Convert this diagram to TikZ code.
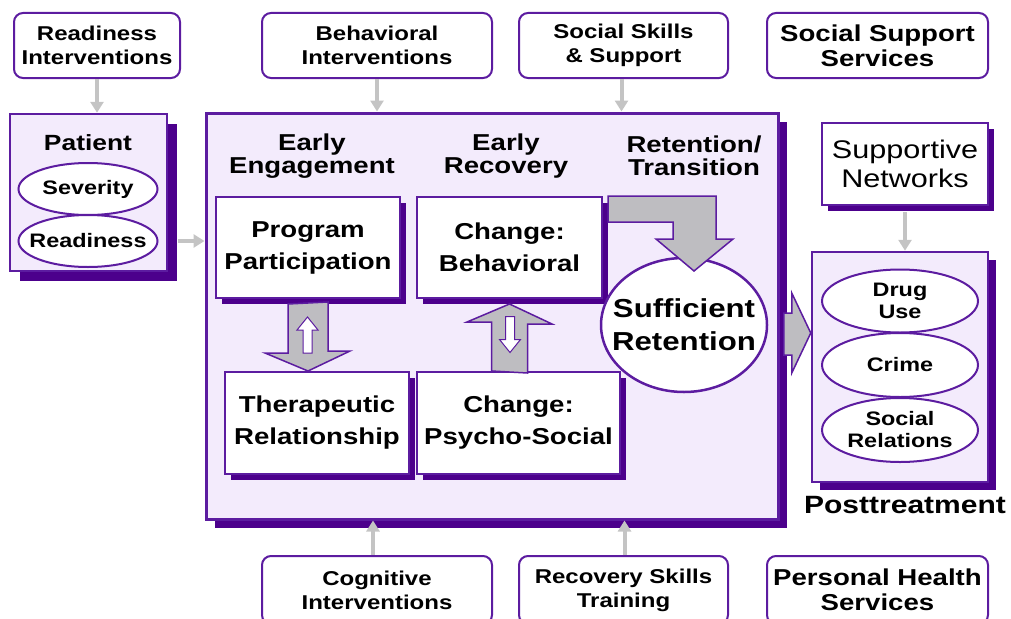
\documentclass[tikz,border=0pt]{standalone}
\usepackage{fontspec}
\setmainfont[FakeStretch=1.2]{Liberation Sans}
\usetikzlibrary{arrows.meta, shapes.geometric, shadows, positioning, calc}
\definecolor{purp}{RGB}{92,28,160}
\definecolor{shade}{RGB}{76,0,140}
\definecolor{lav}{RGB}{243,235,252}
\definecolor{fatgray}{RGB}{190,189,193}
\definecolor{linkgray}{RGB}{196,196,196}
\newcommand{\fsz}[2]{\fontsize{#1}{#2}\selectfont}

\begin{document}
\begin{tikzpicture}[x=1pt, y=-1pt,
  >={Triangle[length=11pt,width=13pt]},
  lift/.style={drop shadow={shadow xshift=#1, shadow yshift=-#1, fill=shade, opacity=1}},
  svc/.style={draw=purp, line width=2pt, rounded corners=9pt, fill=white, align=center,
    inner sep=0pt, minimum height=65pt, font=\bfseries\fsz{20}{24}},
  panel/.style={draw=purp, line width=2.5pt, fill=lav, inner sep=0pt},
  stage/.style={draw=purp, line width=2pt, fill=white, align=center, inner sep=0pt,
    minimum width=184pt, minimum height=101pt, lift=6pt, font=\bfseries\fsz{23}{32}},
  trait/.style={ellipse, draw=purp, line width=2pt, fill=white, align=center, inner sep=-30pt,
    minimum width=139pt, minimum height=52pt, font=\bfseries\fsz{19.5}{22}},
  head/.style={align=center, font=\bfseries\fsz{23}{23}},
  link/.style={draw=linkgray, line width=4pt, ->},
  fat/.style={fill=fatgray, draw=purp, line width=1.5pt, line join=miter},
  hollowup/.pic={\draw[draw=purp, fill=white, line width=1pt]
    (-4.5,18) -- (-4.5,-5) -- (-10.5,-5) -- (0,-18) -- (10.5,-5) -- (4.5,-5) -- (4.5,18) -- cycle;}
]
  \useasboundingbox (0,0) rectangle (1011,618);

  % services around the program
  \node[svc, minimum width=166pt] (readyint) at (97,45.5) {Readiness\\Interventions};
  \node[svc, minimum width=230pt] (behavint) at (377,45.5) {Behavioral\\Interventions};
  \node[svc, minimum width=209pt] (socskill) at (623.5,45.5) {Social Skills\\\& Support};
  \node[svc, minimum width=221pt, font=\bfseries\fsz{23}{25}] (socsupp) at (877.5,45.5) {Social Support\\Services};
  \node[svc, minimum width=230pt, minimum height=68pt] (cogint) at (377,590) {Cognitive\\Interventions};
  \node[svc, minimum width=209pt, minimum height=68pt] (recskill) at (623.5,590) {Recovery Skills\\Training};
  \node[svc, minimum width=221pt, minimum height=68pt, font=\bfseries\fsz{23}{25}] (perhealth) at (877.5,590) {Personal Health\\Services};

  % patient
  \node[panel, lift=10pt, minimum width=157pt, minimum height=157pt] (patient) at (88.5,192.5) {};
  \node[font=\bfseries\fsz{22}{22}] (ptitle) at (88,143) {Patient};
  \node[trait] (sev) at (88,189) {Severity};
  \node[trait] (rdy) at (88,241) {Readiness};

  % treatment process
  \node[panel, line width=3pt, lift=9pt, minimum width=572pt, minimum height=406pt] (core) at (492,316) {};
  \node[head] (eng) at (312,156) {Early\\Engagement};
  \node[head] (rec) at (506,156) {Early\\Recovery};
  \node[head] (ret) at (694,156) {Retention/\\Transition};

  \node[stage] (prog) at (308,247.5) {Program\\Participation};
  \node[stage, minimum width=185pt] (chbeh) at (509.5,247.5) {Change:\\Behavioral};
  \node[stage, minimum height=102pt] (thera) at (317,423) {Therapeutic\\Relationship};
  \node[stage, minimum width=203pt, minimum height=102pt] (chpsy) at (518.5,423) {Change:\\Psycho-Social};
  \node[trait, line width=2.5pt, minimum width=166pt, minimum height=134pt, font=\bfseries\fsz{26}{33}] (suff) at (684,325) {Sufficient\\Retention};

  % posttreatment
  \node[draw=purp, line width=2pt, fill=white, lift=6pt, minimum width=166pt, minimum height=82pt,
    align=center, inner sep=0pt, font=\fsz{25.5}{29}] (supnet) at (905,164) {Supportive\\Networks};
  \node[panel, lift=8pt, minimum width=176pt, minimum height=230pt] (post) at (900,367) {};
  \node[trait, minimum width=156pt, minimum height=63pt] (drug) at (900,301) {Drug\\Use};
  \node[trait, minimum width=156pt, minimum height=64pt] (crime) at (900,365) {Crime};
  \node[trait, minimum width=156pt, minimum height=64pt] (socrel) at (900,430) {Social\\Relations};
  \node[font=\bfseries\fsz{25}{25}] (ptlabel) at (905,505) {Posttreatment};

  % wide arrows
  \draw[fat] ([xshift=-20pt,yshift=-5pt]prog.south) -- ++(0,49) -- ++(-23,0)
    -- (prog.south |- thera.north) -- ++(42,-20) -- ++(-22,0) -- ++(0,-49) -- cycle;
  \pic at (307.5,335) {hollowup};
  \draw[fat] ($(chbeh.south |- chpsy.north)+(-18,0)$) -- ++(0,-49) -- ++(-24.5,0)
    -- ([yshift=-5pt]chbeh.south) -- ++(42.5,20) -- ++(-24.5,0) -- ++(0,49) -- cycle;
  \pic[rotate=180] at (510,334.5) {hollowup};
  \draw[fat] ([xshift=5pt]chbeh.north east) -- ++(108,0) -- ++(0,43) -- ++(17,0)
    -- ++(-39,32) -- ++(-38,-32) -- ++(17,0) -- ++(0,-17) -- ([xshift=5pt,yshift=-26pt]chbeh.north east) -- cycle;
  \draw[fat] ([yshift=34pt]post.west) -- ++(-19,-40) -- ++(0,20) -- ++(-8,0) -- ++(0,42)
    -- ++(8,0) -- ++(0,18) -- cycle;

  % influences
  \path[link] (readyint.south) -- (readyint.south |- patient.north);
  \path[link] (behavint.south) -- (behavint.south |- core.north);
  \path[link] ([xshift=-2pt]socskill.south) -- ([xshift=-2pt]socskill.south |- core.north);
  \path[link] ([xshift=10pt]patient.east |- rdy) -- (core.west |- rdy);
  \path[link] ([yshift=-6pt]supnet.south) -- (supnet.south |- post.north);
  \path[link] ([xshift=-4pt]cogint.north) -- ([xshift=-4pt]cogint.north |- core.south);
  \path[link] ([xshift=1pt]recskill.north) -- ([xshift=1pt]recskill.north |- core.south);
\end{tikzpicture}
\end{document}
